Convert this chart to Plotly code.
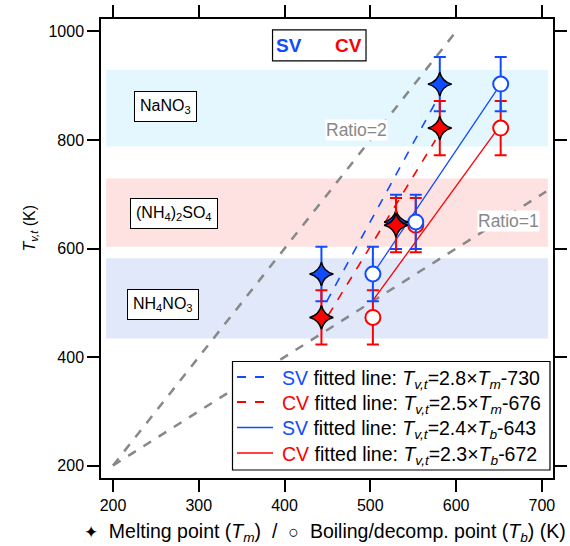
import plotly.graph_objects as go

# ---------------- data ----------------
salts = ["NH4NO3", "(NH4)2SO4", "NaNO3"]
tm = [443, 530, 581]          # melting points (K)
tb = [503, 553, 652]          # boiling / decomposition points (K)
sv = [553, 649, 903]          # SV T_v,t (K)
cv = [473, 643, 822]          # CV T_v,t (K)
sv_err = [50, 50, 50]
cv_err = [50, 50, 50]

# fitted lines (end points as drawn)
sv_tm_fit_x = [449, 578]
sv_tm_fit_y = [502, 875]
cv_tm_fit_x = [451, 576]
cv_tm_fit_y = [477, 800]
sv_tb_fit_x = [503, 652]
sv_tb_fit_y = [553, 903]
cv_tb_fit_x = [502, 653]
cv_tb_fit_y = [502, 830]

ratio2_x = [200, 600]
ratio2_y = [200, 1000]
ratio1_x = [200, 705]
ratio1_y = [200, 705]

# bands (temperature ranges)
band_x = [192, 707]
band_nano3 = [788, 929]
band_as = [603, 729]
band_an = [434, 582]

fit_labels = ["SV", "CV", "SV", "CV"]
fit_slopes = ["2.8", "2.5", "2.4", "2.3"]
fit_vars = ["m", "m", "b", "b"]
fit_icpts = ["730", "676", "643", "672"]

xticks = [200, 300, 400, 500, 600, 700]
yticks = [200, 400, 600, 800, 1000]

BLUE = "rgb(16,76,255)"
RED = "rgb(255,0,0)"
GRAY = "rgb(136,136,136)"
FONT = "Liberation Sans, Arial, sans-serif"

# plot-area geometry (px) for paper conversions
W, H = 570, 546
ML, MR, MT, MB = 101, 17, 19, 68
PW, PH = W - ML - MR, H - MT - MB
def px(xp):
    return (xp - ML) / PW
def py(yp):
    return (H - MB - yp) / PH

fig = go.Figure()

# ratio lines
fig.add_trace(go.Scatter(x=ratio2_x, y=ratio2_y, mode="lines", showlegend=False,
                         line=dict(color=GRAY, width=2.5, dash="dash")))
fig.add_trace(go.Scatter(x=ratio1_x, y=ratio1_y, mode="lines", showlegend=False,
                         line=dict(color=GRAY, width=2.5, dash="dash")))

fit_styles = [(BLUE, "dash", 1.6), (RED, "dash", 1.6), (BLUE, "solid", 1.3), (RED, "solid", 1.3)]
fit_data = [(sv_tm_fit_x, sv_tm_fit_y), (cv_tm_fit_x, cv_tm_fit_y),
            (sv_tb_fit_x, sv_tb_fit_y), (cv_tb_fit_x, cv_tb_fit_y)]
for (fx, fy), (col, dash, w) in zip(fit_data, fit_styles):
    fig.add_trace(go.Scatter(x=fx, y=fy, mode="lines", showlegend=False,
                             line=dict(color=col, width=w, dash=dash)))

# circles (boiling point)
fig.add_trace(go.Scatter(x=tb, y=cv, mode="markers", showlegend=False,
                         error_y=dict(type="data", array=cv_err, color=RED, thickness=2, width=6),
                         marker=dict(symbol="circle", size=15, color="white",
                                     line=dict(color=RED, width=2))))
fig.add_trace(go.Scatter(x=tb, y=sv, mode="markers", showlegend=False,
                         error_y=dict(type="data", array=sv_err, color=BLUE, thickness=2, width=6),
                         marker=dict(symbol="circle", size=15, color="white",
                                     line=dict(color=BLUE, width=2))))
# diamonds (melting point)
fig.add_trace(go.Scatter(x=tm, y=sv, mode="markers", showlegend=False,
                         error_y=dict(type="data", array=sv_err, color=BLUE, thickness=2, width=6),
                         marker=dict(symbol="star-diamond", size=17, color=BLUE,
                                     line=dict(color="black", width=1.5))))
fig.add_trace(go.Scatter(x=tm, y=cv, mode="markers", showlegend=False,
                         error_y=dict(type="data", array=cv_err, color=RED, thickness=2, width=6),
                         marker=dict(symbol="star-diamond", size=17, color=RED,
                                     line=dict(color="black", width=1.5))))

shapes = [
    dict(type="rect", xref="x", yref="y", x0=band_x[0], x1=band_x[1], y0=band_nano3[0], y1=band_nano3[1],
         fillcolor="rgb(229,247,254)", line=dict(width=0), layer="below"),
    dict(type="rect", xref="x", yref="y", x0=band_x[0], x1=band_x[1], y0=band_as[0], y1=band_as[1],
         fillcolor="rgb(254,226,226)", line=dict(width=0), layer="below"),
    dict(type="rect", xref="x", yref="y", x0=band_x[0], x1=band_x[1], y0=band_an[0], y1=band_an[1],
         fillcolor="rgb(225,232,250)", line=dict(width=0), layer="below"),
    # SV / CV box
    dict(type="rect", xref="x", yref="y", x0=386, x1=495, y0=946, y1=1003,
         fillcolor="white", line=dict(color="black", width=1.2)),
    # legend box
    dict(type="rect", xref="paper", yref="paper", x0=px(232.5), x1=px(550), y0=py(470), y1=py(361.5),
         fillcolor="white", line=dict(color="black", width=1.2), layer="above"),
]

ann = []
row_y = [377, 402, 427.5, 453]
for i, (lbl, sl, var, ic) in enumerate(zip(fit_labels, fit_slopes, fit_vars, fit_icpts)):
    col, dash, w = fit_styles[i]
    shapes.append(dict(type="line", xref="paper", yref="paper",
                       x0=px(237), x1=px(273), y0=py(row_y[i]), y1=py(row_y[i]),
                       line=dict(color=col, width=w + 0.2, dash=dash), layer="above"))
    ann.append(dict(x=px(280), y=py(row_y[i] + 2), xref="paper", yref="paper",
                    xanchor="left", yanchor="middle", showarrow=False,
                    text=(f"<span style='color:{col}'>{lbl}</span> fitted line: "
                          f"<i>T</i><sub><i>v,t</i></sub>={sl}×<i>T</i><sub><i>{var}</i></sub>-{ic}"),
                    font=dict(family=FONT, size=19.5, color="black")))

def box_label(x, y, text):
    ann.append(dict(x=x, y=y, xref="x", yref="y", text=text, showarrow=False,
                    font=dict(family=FONT, size=16, color="black"),
                    bgcolor="white", bordercolor="black", borderwidth=1, borderpad=5))

box_label(261, 861, "NaNO<sub>3</sub>")
box_label(271, 664, "(NH<sub>4</sub>)<sub>2</sub>SO<sub>4</sub>")
box_label(258, 497, "NH<sub>4</sub>NO<sub>3</sub>")

ann.append(dict(x=484, y=818, xref="x", yref="y", text="Ratio=2", showarrow=False,
                font=dict(family=FONT, size=17.5, color=GRAY), bgcolor="white", borderpad=0))
ann.append(dict(x=661, y=651, xref="x", yref="y", text="Ratio=1", showarrow=False,
                font=dict(family=FONT, size=17.5, color=GRAY), bgcolor="white", borderpad=0))

ann.append(dict(x=405.5, y=974, xref="x", yref="y", text="<b>SV</b>", showarrow=False,
                font=dict(family=FONT, size=19, color=BLUE)))
ann.append(dict(x=474.5, y=974, xref="x", yref="y", text="<b>CV</b>", showarrow=False,
                font=dict(family=FONT, size=19, color=RED)))

# y-axis title
ann.append(dict(x=px(18), y=py(228), xref="paper", yref="paper", textangle=-90,
                text="<i>T</i><sub><i>v,t</i></sub> (K)", showarrow=False,
                font=dict(family=FONT, size=16, color="black")))
# x-axis title
ann.append(dict(x=px(325), y=py(532), xref="paper", yref="paper", yanchor="middle",
                text=("<span style='font-size:17px'>✦</span>  Melting point (<i>T</i><sub><i>m</i></sub>)  /  "
                      "<span style='font-size:18px'>○</span>  Boiling/decomp. point (<i>T</i><sub><i>b</i></sub>) (K)"),
                showarrow=False, font=dict(family=FONT, size=19.5, color="black")))

axis_common = dict(showline=True, linecolor="black", linewidth=1.5, mirror="ticks",
                   ticks="outside", ticklen=12, tickwidth=1.5, tickcolor="black",
                   showgrid=False, zeroline=False, automargin=False,
                   tickfont=dict(family=FONT, size=16, color="black"))

fig.update_layout(
    width=W, height=H, autosize=False,
    margin=dict(l=ML, r=MR, t=MT, b=MB),
    paper_bgcolor="white", plot_bgcolor="white",
    xaxis=dict(range=[186, 713], tickvals=xticks, **axis_common),
    yaxis=dict(range=[177, 1023], tickvals=yticks, **axis_common),
    shapes=shapes, annotations=ann, showlegend=False,
)

fig.write_html("out.html")
